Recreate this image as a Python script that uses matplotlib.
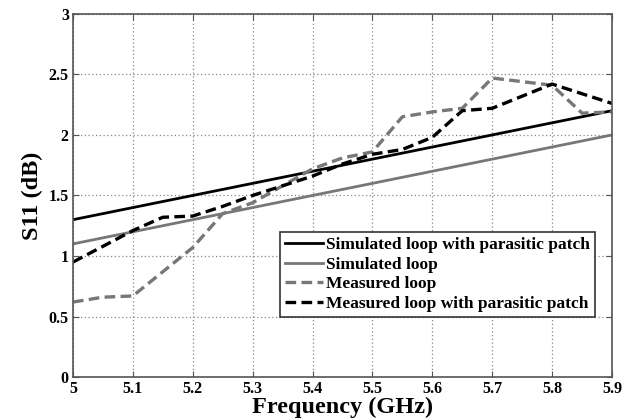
import numpy as np
import matplotlib.pyplot as plt

plt.rcParams['font.family'] = ['Liberation Serif', 'DejaVu Serif']
plt.rcParams['font.weight'] = 'bold'

# simulated (linear) curves
freq_sim = [5.0, 5.9]
sim_patch = [1.3, 2.2]
sim_loop = [1.1, 2.0]

# measured curves
freq_meas = [5.0, 5.05, 5.1, 5.15, 5.2, 5.25, 5.3, 5.35, 5.4, 5.45,
             5.5, 5.55, 5.6, 5.65, 5.7, 5.75, 5.8, 5.85, 5.9]
meas_loop = [0.62, 0.66, 0.67, 0.87, 1.07, 1.35, 1.44, 1.58, 1.72, 1.81,
             1.86, 2.15, 2.19, 2.22, 2.47, 2.44, 2.41, 2.18, 2.19]
meas_patch = [0.95, 1.08, 1.21, 1.32, 1.33, 1.41, 1.50, 1.58, 1.66, 1.76,
              1.84, 1.88, 1.98, 2.20, 2.22, 2.32, 2.42, 2.34, 2.26]

labels = ['Simulated loop with parasitic patch', 'Simulated loop',
          'Measured loop', 'Measured loop with parasitic patch']

fig = plt.figure(figsize=(6.29, 4.19), dpi=100)
ax = fig.add_axes([0.116, 0.100, 0.857, 0.867])

ax.plot(freq_sim, sim_patch, color='black', lw=2.0, label=labels[0])
ax.plot(freq_sim, sim_loop, color='#777777', lw=2.0, label=labels[1])
ax.plot(freq_meas, meas_loop, color='#777777', lw=2.4, ls=(0, (3.2, 1.6)), label=labels[2])
ax.plot(freq_meas, meas_patch, color='black', lw=2.4, ls=(0, (3.2, 1.6)), label=labels[3])

ax.set_xlim(5.0, 5.9)
ax.set_ylim(0, 3)
ax.set_xticks(np.arange(5.0, 5.91, 0.1))
ax.set_xticklabels(['5', '5.1', '5.2', '5.3', '5.4', '5.5', '5.6', '5.7', '5.8', '5.9'])
ax.set_yticks([0, 0.5, 1, 1.5, 2, 2.5, 3])
ax.set_yticklabels(['0', '0.5', '1', '1.5', '2', '2.5', '3'])
ax.tick_params(direction='in', labelsize=11.5, top=True, right=True, length=4,
               color='#555555', pad=3)
for lab in ax.get_xticklabels() + ax.get_yticklabels():
    lab.set_fontweight('bold')
for s in ax.spines.values():
    s.set_color('#555555')
    s.set_linewidth(1.2)

ax.grid(True, ls=(0, (1, 2)), color='#888888', lw=0.9)

ax.set_xlabel('Frequency (GHz)', fontsize=17.5, fontweight='bold', labelpad=0)
ax.set_ylabel('S11 (dB)', fontsize=17.5, fontweight='bold', labelpad=4)

leg = ax.legend(loc='lower right', bbox_to_anchor=(0.968, 0.165),
                prop={'weight': 'bold', 'size': 12.5}, fancybox=False,
                framealpha=1, edgecolor='#333333', handlelength=2.2,
                handletextpad=0.15, borderpad=0.3, labelspacing=0.2,
                borderaxespad=0)
leg.get_frame().set_linewidth(1.2)

plt.savefig('out.png', dpi=100)
